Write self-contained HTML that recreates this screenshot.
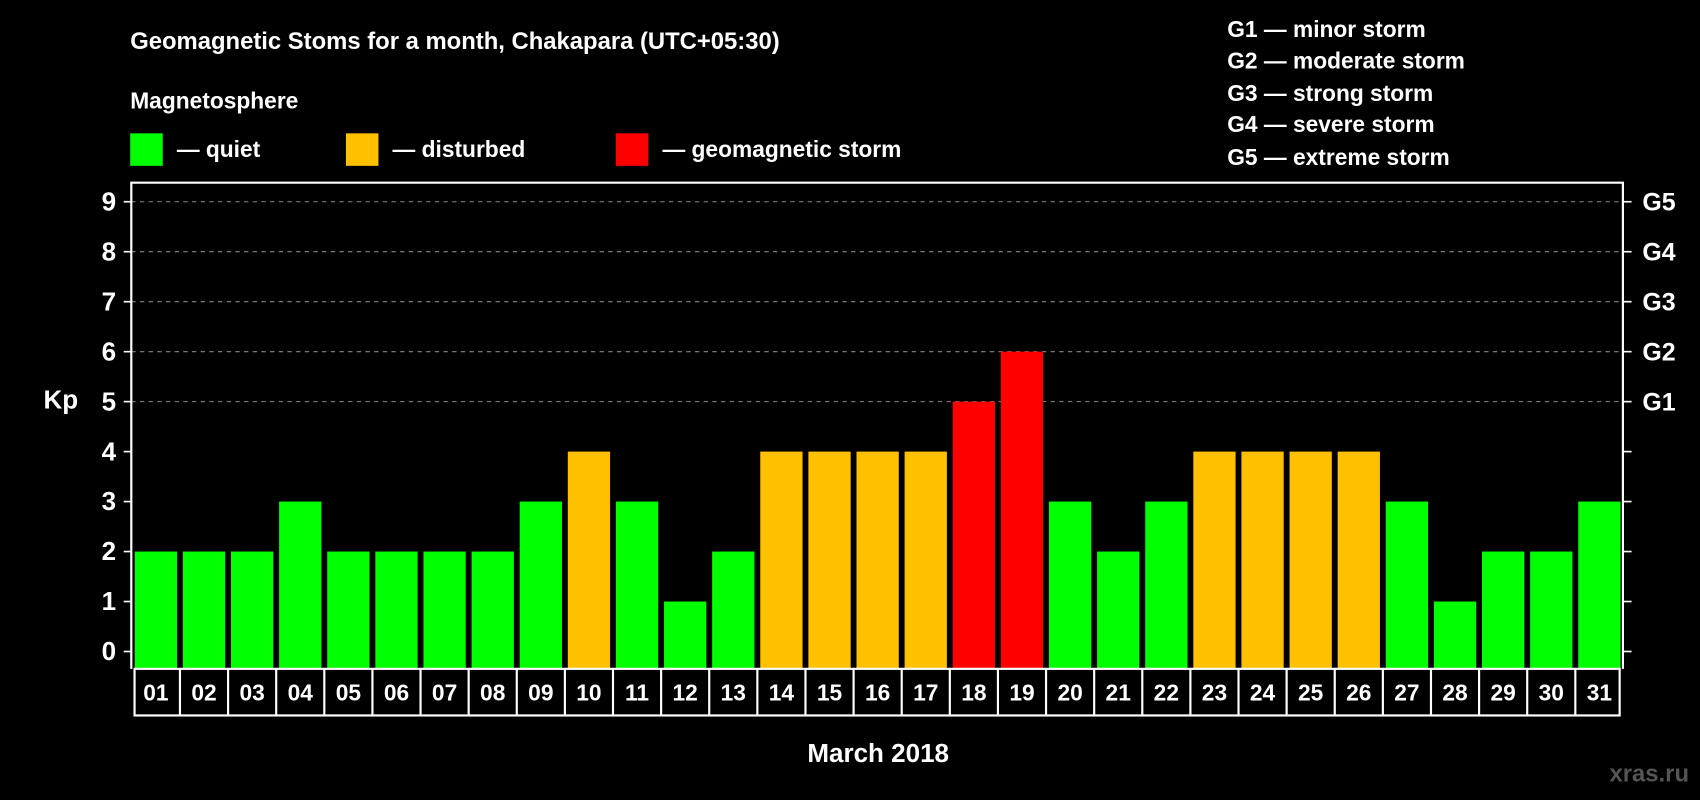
<!DOCTYPE html>
<html><head><meta charset="utf-8"><style>
html,body{margin:0;padding:0;background:#000;width:1700px;height:800px;overflow:hidden}
svg{display:block;font-family:"Liberation Sans",Arial,sans-serif;font-weight:bold}
</style></head><body>
<svg id="chart" width="1700" height="800" viewBox="0 0 1568 738" xmlns="http://www.w3.org/2000/svg">
<rect x="0" y="0" width="1568" height="738" fill="#000"/>
<text x="120" y="45" fill="#fff" font-size="22">Geomagnetic Stoms for a month, Chakapara (UTC+05:30)</text>
<text x="120" y="100" fill="#fff" font-size="21">Magnetosphere</text>
<g><rect x="120" y="123" width="30" height="30" fill="#00ff00"/><text x="163" y="145" fill="#fff" font-size="21">— quiet</text></g>
<g><rect x="319" y="123" width="30" height="30" fill="#ffc000"/><text x="362" y="145" fill="#fff" font-size="21">— disturbed</text></g>
<g><rect x="568" y="123" width="30" height="30" fill="#ff0000"/><text x="611" y="145" fill="#fff" font-size="21">— geomagnetic storm</text></g>
<g fill="#fff" font-size="21">
<text x="1132" y="34">G1 — minor storm</text>
<text x="1132" y="63">G2 — moderate storm</text>
<text x="1132" y="93">G3 — strong storm</text>
<text x="1132" y="122">G4 — severe storm</text>
<text x="1132" y="152">G5 — extreme storm</text>
</g>
<text x="40" y="377" fill="#fff" font-size="24">Kp</text>
<text x="810" y="703" fill="#fff" font-size="24" text-anchor="middle">March 2018</text>
<text x="1558" y="721" fill="#555" font-size="22" text-anchor="end">xras.ru</text>
<g id="grid"></g><g id="bars"></g><g id="axes"></g>
</svg>
<script>
const days=["01","02","03","04","05","06","07","08","09","10","11","12","13","14","15","16","17","18","19","20","21","22","23","24","25","26","27","28","29","30","31"];
const kpValues=[2,2,2,3,2,2,2,2,3,4,3,1,2,4,4,4,4,5,6,3,2,3,4,4,4,4,3,1,2,2,3];
const yTicks=[0,1,2,3,4,5,6,7,8,9];
const gLabels=["G1","G2","G3","G4","G5"];
const NS="http://www.w3.org/2000/svg";
const X0=121,X1=1497,TOP=168.5,BOT=617;
const pitch=(X1-X0)/days.length;
function xc(i){return X0+pitch*(i+0.5)+0.5;}
function y(v){return 601-46.1*v;}
function mk(tag,attrs,parent){const e=document.createElementNS(NS,tag);for(const k in attrs)e.setAttribute(k,attrs[k]);parent.appendChild(e);return e;}
const grid=document.getElementById('grid'),bars=document.getElementById('bars'),axes=document.getElementById('axes');
yTicks.forEach(v=>{
  if(v>=5){const l=mk('line',{x1:X0,x2:X1,y1:y(v),y2:y(v),stroke:'#888','stroke-width':1,'stroke-dasharray':'4 4'},grid);
  
  }
  const t=mk('line',{x1:X0-7,x2:X0,y1:y(v),y2:y(v),stroke:'#fff','stroke-width':1.5},axes);
  
  
  const lb=mk('text',{x:X0-14,y:y(v)+8,fill:'#fff','font-size':24,'text-anchor':'end'},axes);lb.textContent=v;
  
  
  const rt=mk('line',{x1:X1,x2:X1+8,y1:y(v),y2:y(v),stroke:'#fff','stroke-width':1.5},axes);
  
  
});
gLabels.forEach((g,k)=>{const t=mk('text',{x:X1+18,y:y(k+5)+8,fill:'#fff','font-size':23},axes);t.textContent=g;
  
  });
kpValues.forEach((v,i)=>{
  const col=v>=5?'#ff0000':(v>=4?'#ffc000':'#00ff00');
  const r=mk('rect',{x:xc(i)-19.5,y:y(v),width:39,height:BOT-y(v),fill:col},bars);
  
  
});
const frame=mk('path',{d:`M${X0} ${BOT} V${TOP} H${X1} V${BOT}`,fill:'none',stroke:'#fff','stroke-width':2},axes);


const row=mk('rect',{x:X0+3,y:BOT,width:X1-X0-6,height:43,fill:'none',stroke:'#fff','stroke-width':2},axes);


days.forEach((d,i)=>{
  if(i>0){const l=mk('line',{x1:xc(i)-pitch/2,x2:xc(i)-pitch/2,y1:BOT,y2:BOT+43,stroke:'#fff','stroke-width':2},axes);
  
  }
  const t=mk('text',{x:xc(i),y:BOT+29,fill:'#fff','font-size':21,'text-anchor':'middle'},axes);t.textContent=d;
  
  
});
</script>
</body></html>
